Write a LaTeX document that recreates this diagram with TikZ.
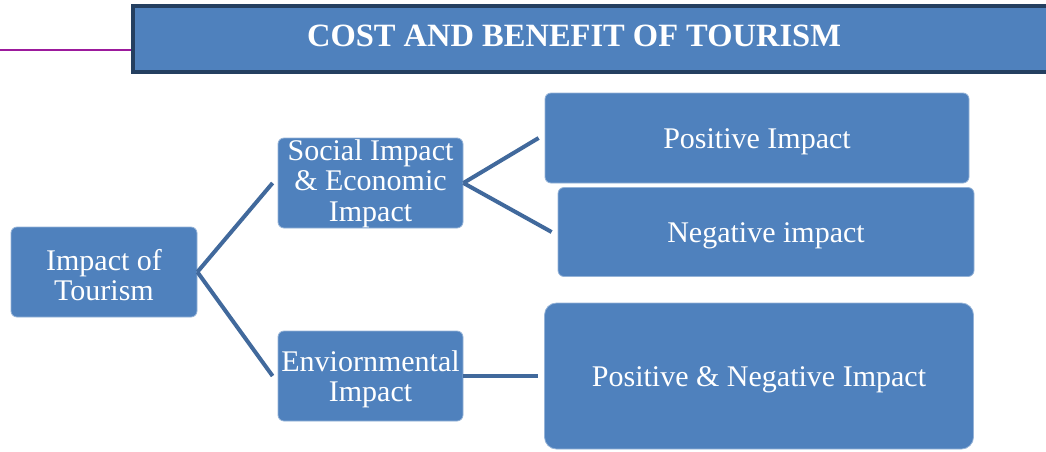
\documentclass[tikz,border=0pt]{standalone}
\usepackage{fontspec}
\setmainfont{Liberation Serif}
\usetikzlibrary{positioning}
\definecolor{boxblue}{HTML}{4F81BD}
\definecolor{linkblue}{HTML}{41699C}
\definecolor{titleedge}{HTML}{243F60}
\definecolor{rulepurple}{HTML}{9C1A9C}
\newcommand{\firstline}{\rule{0pt}{27pt}}

\begin{document}
\begin{tikzpicture}[x=1pt,y=-1pt,
    box/.style={rectangle,rounded corners=6pt,fill=boxblue,
      draw=boxblue!60!white,line width=0.8pt,text=white,
      inner sep=0pt,font=\fontsize{30}{30.5}\selectfont},
    lines/.style={box,align=center},
    oneline/.style={box,text height=23pt,text depth=2pt},
    link/.style={draw=linkblue,line width=4pt},
    titlebar/.style={fill=boxblue,draw=titleedge,line width=4pt},
    titletext/.style={text=white,font=\fontsize{32.5}{34}\selectfont\bfseries}]
    \clip (0,0) rectangle (1046,451);

    % header rule and title bar
    \draw[rulepurple,line width=2.5pt] (0,50) -- (131,50);
    \draw[titlebar] (133,6) rectangle (1070,72);
    \node[titletext] (title) at (574,36) {COST AND BENEFIT OF TOURISM};

    % boxes
    \node[lines,minimum width=186,minimum height=90] (tourism) at (104,272) {\firstline Impact of\\Tourism};
    \node[lines,minimum width=185,minimum height=90] (social) at (370.5,183) {\rule{0pt}{22pt}Social Impact\\\& Economic\\Impact};
    \node[lines,minimum width=185,minimum height=90] (env) at (370.5,376) {\firstline Enviornmental\\Impact};
    \node[oneline,minimum width=424,minimum height=90] (pos) at (757,138) {Positive Impact};
    \node[oneline,minimum width=416,minimum height=89] (neg) at (766,232) {Negative impact};
    \node[oneline,rounded corners=12pt,minimum width=429,minimum height=146] (both) at (759,376) {Positive \& Negative Impact};

    % links
    \draw[link] (tourism.east) -- ([xshift=-5pt]social.west);
    \draw[link] (tourism.east) -- ([xshift=-5pt]env.west);
    \draw[link] (social.east) -- ([xshift=-6pt]pos.west);
    \draw[link] (social.east) -- ([xshift=-6pt]neg.west);
    \draw[link] (env.east) -- ([xshift=-6pt]both.west);
\end{tikzpicture}
\end{document}
